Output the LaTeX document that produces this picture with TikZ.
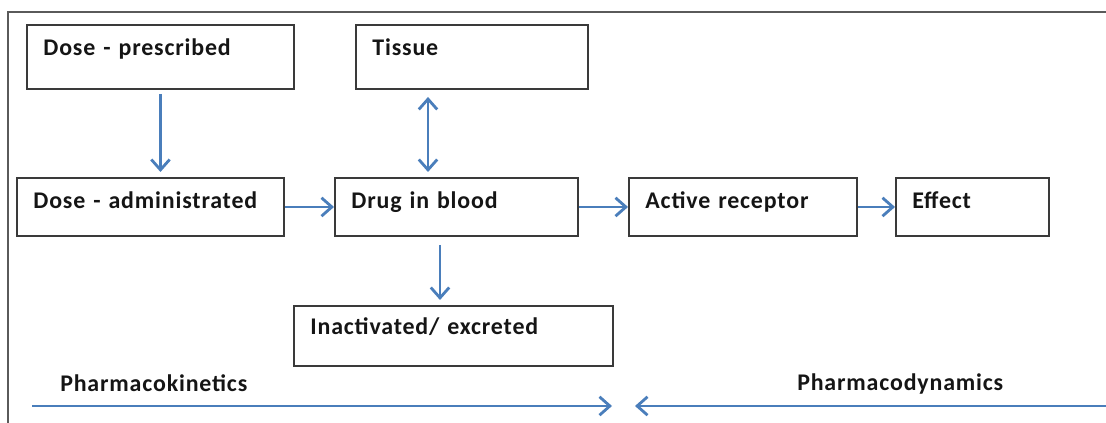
\documentclass[tikz,border=0pt]{standalone}
\usepackage{fontspec}
\setmainfont{Carlito}[LetterSpace=3.5]
\usetikzlibrary{arrows.meta,calc}
\definecolor{ink}{HTML}{151515}
\definecolor{frame}{HTML}{5A5A5A}
\definecolor{edge}{HTML}{3A3A3A}
\definecolor{flow}{HTML}{4A7EBB}

\begin{document}
\begin{tikzpicture}[font=\fontsize{17}{20}\selectfont\bfseries,text=ink,
  >={Straight Barb[length=2.6mm,width=4.6mm]},
  box/.style={draw=edge,line width=1.4pt,anchor=north west,align=left,
    inner xsep=0pt,inner ysep=0pt,text width=#1,text height=0.76cm,
    execute at begin node={\leftskip=0.41cm}},
  flowline/.style={flow,line width=2pt,->}]
  \useasboundingbox (0,0) rectangle (27.65,10.575);
  \draw[frame,line width=1.5pt] (0.2,0) -- (0.2,10.275) -- (27.65,10.275);

  \node[box=6.675cm,text depth=0.84cm] (prescribed) at (0.65,9.975) {Dose - prescribed};
  \node[box=5.8cm,text depth=0.84cm] (tissue) at (8.875,9.975) {Tissue};
  \node[box=6.675cm,text depth=0.69cm] (administered) at (0.4,6.15) {Dose - administrated};
  \node[box=6.075cm,text depth=0.69cm] (blood) at (8.35,6.15) {Drug in blood};
  \node[box=5.7cm,text depth=0.69cm] (receptor) at (15.7,6.15) {Active receptor};
  \node[box=3.825cm,text depth=0.69cm] (effect) at (22.375,6.15) {Effect};
  \node[box=7.975cm,text height=0.72cm,text depth=0.78cm] (excreted) at (7.325,2.95) {Inactivated/ excreted};

  \coordinate (tissuefoot) at ($(blood.north west)+(2.35,0)$);
  \coordinate (bloodfoot) at ($(blood.south west)+(2.65,0)$);
  \draw[flowline,shorten <=0.1cm,shorten >=0.125cm] (prescribed.south) -- (prescribed.south |- administered.north);
  \draw[flowline,<->,shorten <=0.125cm,shorten >=0.175cm] (tissuefoot) -- (tissuefoot |- tissue.south);
  \draw[flowline,shorten <=0.2cm,shorten >=0.125cm] (bloodfoot) -- (bloodfoot |- excreted.north);
  \draw[flowline] (administered.east) -- (blood.west);
  \draw[flowline] (blood.east) -- (receptor.west);
  \draw[flowline] (receptor.east) -- (effect.west);

  \coordinate (kineticsstart) at (0.8,0.425);
  \coordinate (kineticsend) at (15.3,0.425);
  \coordinate (dynamicsstart) at (27.65,0.425);
  \coordinate (dynamicsend) at (15.875,0.425);
  \draw[flowline] (kineticsstart) -- (kineticsend);
  \draw[flowline] (dynamicsstart) -- (dynamicsend);
  \node[anchor=west,inner sep=0pt] (kinetics) at (1.5,1.0) {Pharmacokinetics};
  \node[anchor=west,inner sep=0pt] (dynamics) at (19.925,0.975) {Pharmacodynamics};
\end{tikzpicture}
\end{document}
